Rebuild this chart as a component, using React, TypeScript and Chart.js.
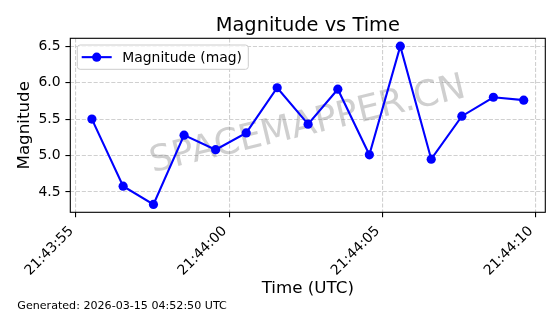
import React, { useEffect, useRef } from "react";
import { Chart, registerables } from "chart.js";

Chart.register(...registerables);

const chartTitle = "Magnitude vs Time";
const seriesLabel = "Magnitude (mag)";
const xTitle = "Time (UTC)";
const yTitle = "Magnitude";
const footerText = "Generated: 2026-03-15 04:52:50 UTC";
const watermarkText = "SPACEMAPPER.CN";

const times = [
  "21:43:55.52",
  "21:43:56.54",
  "21:43:57.53",
  "21:43:58.53",
  "21:43:59.56",
  "21:44:00.56",
  "21:44:01.57",
  "21:44:02.58",
  "21:44:03.55",
  "21:44:04.58",
  "21:44:05.59",
  "21:44:06.60",
  "21:44:07.60",
  "21:44:08.63",
  "21:44:09.62",
];
const magnitudes = [5.5, 4.58, 4.33, 5.28, 5.08, 5.31, 5.93, 5.43, 5.91, 5.01, 6.5, 4.95, 5.54, 5.8, 5.76];

const xTickLabels = ["21:43:55", "21:44:00", "21:44:05", "21:44:10"];
const yTickValues = [4.5, 5.0, 5.5, 6.0, 6.5];

const FONT = "'DejaVu Sans', 'Liberation Sans', sans-serif";

function toSec(s: string): number {
  const [h, m, sec] = s.split(":");
  return Number(h) * 3600 + Number(m) * 60 + parseFloat(sec);
}
function pad2(n: number) {
  return n < 10 ? "0" + n : String(n);
}
function fmtTime(v: number): string {
  const t = Math.round(v);
  const h = Math.floor(t / 3600);
  const m = Math.floor((t % 3600) / 60);
  const s = t % 60;
  return `${pad2(h)}:${pad2(m)}:${pad2(s)}`;
}

export default function App() {
  const ref = useRef<HTMLCanvasElement | null>(null);

  useEffect(() => {
    const canvas = ref.current;
    if (!canvas) return;
    const xs = times.map(toSec);
    const points = xs.map((x, i) => ({ x, y: magnitudes[i] }));
    const xMinD = Math.min(...xs);
    const xMaxD = Math.max(...xs);
    const yMinD = Math.min(...magnitudes);
    const yMaxD = Math.max(...magnitudes);
    const xm = (xMaxD - xMinD) * 0.05;
    const ym = (yMaxD - yMinD) * 0.05;

    const decor = {
      id: "decor",
      beforeDatasetsDraw(chart: any) {
        const { ctx, chartArea } = chart;
        const cx = (chartArea.left + chartArea.right) / 2;
        const cy = (chartArea.top + chartArea.bottom) / 2;
        ctx.save();
        ctx.translate(cx, cy);
        ctx.rotate((-13.5 * Math.PI) / 180);
        ctx.font = `36px ${FONT}`;
        ctx.fillStyle = "rgba(128,128,128,0.38)";
        ctx.textAlign = "center";
        ctx.textBaseline = "middle";
        ctx.fillText(watermarkText, 0, 0);
        ctx.restore();
      },
      afterDraw(chart: any) {
        const { ctx, chartArea } = chart;
        ctx.save();
        // frame
        ctx.strokeStyle = "#000";
        ctx.lineWidth = 1.1;
        ctx.setLineDash([]);
        ctx.strokeRect(
          chartArea.left,
          chartArea.top,
          chartArea.right - chartArea.left,
          chartArea.bottom - chartArea.top
        );
        // legend
        const lx = chartArea.left + 7;
        const ly = chartArea.top + 6.7;
        const lw = 171;
        const lh = 24.3;
        ctx.beginPath();
        if ((ctx as any).roundRect) (ctx as any).roundRect(lx, ly, lw, lh, 2.8);
        else ctx.rect(lx, ly, lw, lh);
        ctx.fillStyle = "rgba(255,255,255,0.8)";
        ctx.fill();
        ctx.strokeStyle = "#cccccc";
        ctx.lineWidth = 1;
        ctx.stroke();
        const my = ly + lh / 2;
        ctx.beginPath();
        ctx.moveTo(lx + 4.4, my);
        ctx.lineTo(lx + 34.4, my);
        ctx.strokeStyle = "#0000ff";
        ctx.lineWidth = 2.1;
        ctx.stroke();
        ctx.beginPath();
        ctx.arc(lx + 19.4, my, 4.6, 0, Math.PI * 2);
        ctx.fillStyle = "#0000ff";
        ctx.fill();
        ctx.font = `13.9px ${FONT}`;
        ctx.fillStyle = "#000";
        ctx.textAlign = "left";
        ctx.textBaseline = "alphabetic";
        ctx.fillText(seriesLabel, lx + 45, my + 4.9);
        // title
        ctx.font = `19.4px ${FONT}`;
        ctx.textAlign = "center";
        ctx.fillText(chartTitle, (chartArea.left + chartArea.right) / 2, 30.5);
        // footer
        ctx.font = `11.1px ${FONT}`;
        ctx.textAlign = "left";
        ctx.fillText(footerText, 17.3, 308.8);
        ctx.restore();
      },
    };

    const gridCommon = {
      color: "rgba(176,176,176,0.6)",
      lineWidth: 1.1,
      tickColor: "#000",
      tickWidth: 1.1,
      tickLength: 4.9,
      tickBorderDash: [10, 0],
      drawTicks: true,
    };
    const borderCommon = {
      display: false,
      dash: [4.1, 1.8],
    };

    const chart = new Chart(canvas, {
      type: "line",
      data: {
        datasets: [
          {
            label: seriesLabel,
            data: points,
            borderColor: "#0000ff",
            backgroundColor: "#0000ff",
            borderWidth: 2.1,
            pointRadius: 4.6,
            pointBorderWidth: 0,
            pointBackgroundColor: "#0000ff",
            tension: 0,
            clip: false as any,
          },
        ],
      },
      options: {
        animation: false,
        responsive: false,
        maintainAspectRatio: false,
        devicePixelRatio: 1,
        layout: { padding: { left: 0, top: 38.3, right: 14.7, bottom: 0 } },
        plugins: {
          legend: { display: false },
          title: { display: false },
          tooltip: { enabled: false },
        },
        scales: {
          x: {
            type: "linear",
            min: xMinD - xm,
            max: xMaxD + xm,
            afterFit(scale: any) {
              scale.height = 101.7;
            },
            afterBuildTicks(scale: any) {
              scale.ticks = xTickLabels.map((l) => ({ value: toSec(l) }));
            },
            border: borderCommon as any,
            grid: gridCommon as any,
            ticks: {
              autoSkip: false,
              minRotation: 45,
              maxRotation: 45,
              padding: 5.9,
              labelOffset: -4.5,
              color: "#000",
              font: { family: FONT, size: 13.9 },
              callback: (v: any) => fmtTime(Number(v)),
            },
            title: {
              display: true,
              text: xTitle,
              color: "#000",
              font: { family: FONT, size: 16.7, lineHeight: 1.2 },
              padding: { top: 0, bottom: 15 },
            },
          },
          y: {
            type: "linear",
            min: yMinD - ym,
            max: yMaxD + ym,
            afterFit(scale: any) {
              scale.width = 70.3;
            },
            afterBuildTicks(scale: any) {
              scale.ticks = yTickValues.map((v) => ({ value: v }));
            },
            border: borderCommon as any,
            grid: gridCommon as any,
            ticks: {
              padding: 4.8,
              color: "#000",
              font: { family: FONT, size: 13.9 },
              callback: (v: any) => Number(v).toFixed(1),
            },
            title: {
              display: true,
              text: yTitle,
              color: "#000",
              font: { family: FONT, size: 16.7, lineHeight: 1.2 },
              padding: { top: 15, bottom: 0 },
            },
          },
        },
      },
      plugins: [decor],
    });

    return () => chart.destroy();
  }, []);

  return (
    <div style={{ position: "fixed", left: 0, top: 0, width: 560, height: 314, background: "#fff" }}>
      <canvas ref={ref} width={560} height={314} style={{ display: "block" }} />
    </div>
  );
}
